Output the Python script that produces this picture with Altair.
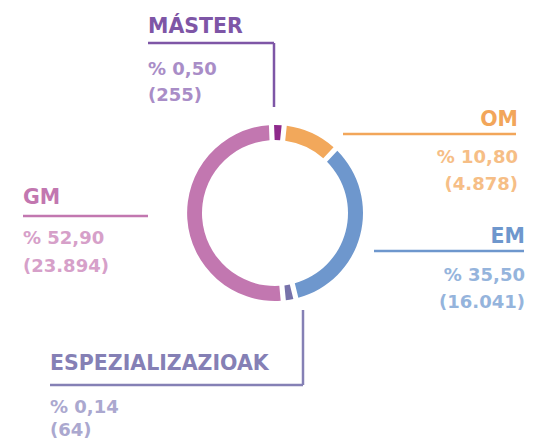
import altair as alt
import pandas as pd

# ---- data ----
categories = ["MÁSTER", "OM", "EM", "ESPEZIALIZAZIOAK", "GM"]
percents = [0.50, 10.80, 35.50, 0.14, 52.90]
counts = [255, 4878, 16041, 64, 23894]
min_share = 2.4  # smallest visible slice share in the ring

arc_colors = ["#8E2A8C", "#F2A85B", "#6E97CD", "#7772AA", "#C277B0"]
title_colors = ["#7E56A6", "#F2A65A", "#6E97CD", "#8580B5", "#C277B0"]
value_colors = ["#A98DC7", "#F6BE86", "#95B4DC", "#ABA8CF", "#D6A0C9"]

def fmt_pct(p):
    return "% " + f"{p:.2f}".replace(".", ",")

def fmt_cnt(c):
    return "(" + f"{c:,}".replace(",", ".") + ")"

arc_df = pd.DataFrame({
    "cat": categories,
    "order": list(range(len(categories))),
    "share": [max(p, min_share) for p in percents],
    "color": arc_colors,
})

# ---- layout (pixel positions in chart space) ----
OFF = 8
layout = {
    "MÁSTER": dict(x=148, align="left", ys=(33, 75, 101)),
    "OM": dict(x=518, align="right", ys=(126, 163, 190)),
    "EM": dict(x=525, align="right", ys=(243, 281, 308)),
    "ESPEZIALIZAZIOAK": dict(x=50, align="left", ys=(370, 413, 436)),
    "GM": dict(x=23, align="left", ys=(204, 244, 272)),
}
lines = {
    "MÁSTER": [(148, 43, 274, 43), (274, 43, 274, 107)],
    "OM": [(343, 134, 516, 134)],
    "EM": [(374, 251, 524, 251)],
    "ESPEZIALIZAZIOAK": [(303, 310, 303, 385), (50, 385, 303, 385)],
    "GM": [(23, 216, 148, 216)],
}

rows = []
for i, c in enumerate(categories):
    L = layout[c]
    texts = [c, fmt_pct(percents[i]), fmt_cnt(counts[i])]
    cols = [title_colors[i], value_colors[i], value_colors[i]]
    sizes = [20.5, 18, 18]
    for k in range(3):
        rows.append(dict(text=texts[k], x=L["x"] - OFF, y=L["ys"][k] - OFF,
                         align=L["align"], color=cols[k], size=sizes[k]))
text_df = pd.DataFrame(rows)

line_rows = []
for i, c in enumerate(categories):
    for (x1, y1, x2, y2) in lines[c]:
        line_rows.append(dict(x=x1 - OFF, y=y1 - OFF, x2=x2 - OFF, y2=y2 - OFF,
                              color=title_colors[i]))
line_df = pd.DataFrame(line_rows)

CX, CY = 275 - OFF, 213 - OFF

ring = alt.Chart(arc_df).mark_arc(
    innerRadius=73, outerRadius=88, padAngle=0.045
).encode(
    theta=alt.Theta("share:Q", stack=True,
                    scale=alt.Scale(range=[-0.04, 6.2432])),
    order=alt.Order("order:Q"),
    color=alt.Color("color:N", scale=None),
    x=alt.value(CX),
    y=alt.value(CY),
)

rules = alt.Chart(line_df).mark_rule(strokeWidth=2.5).encode(
    x=alt.X("x:Q", scale=None, axis=None),
    y=alt.Y("y:Q", scale=None, axis=None),
    x2="x2:Q",
    y2="y2:Q",
    color=alt.Color("color:N", scale=None),
)

def text_layer(al):
    return alt.Chart(text_df).transform_filter(
        alt.datum.align == al
    ).mark_text(
        align=al, baseline="alphabetic", font="DejaVu Sans", fontWeight="bold"
    ).encode(
        x=alt.X("x:Q", scale=None, axis=None),
        y=alt.Y("y:Q", scale=None, axis=None),
        text="text:N",
        size=alt.Size("size:Q", scale=None, legend=None),
        color=alt.Color("color:N", scale=None),
    )

chart = alt.layer(ring, rules, text_layer("left"), text_layer("right")).properties(
    width=519, height=432,
    autosize=alt.AutoSizeParams(type="none"),
    padding=0,
).configure_view(stroke=None)

chart.save("out.html", embed_options={"renderer": "svg", "actions": False})
